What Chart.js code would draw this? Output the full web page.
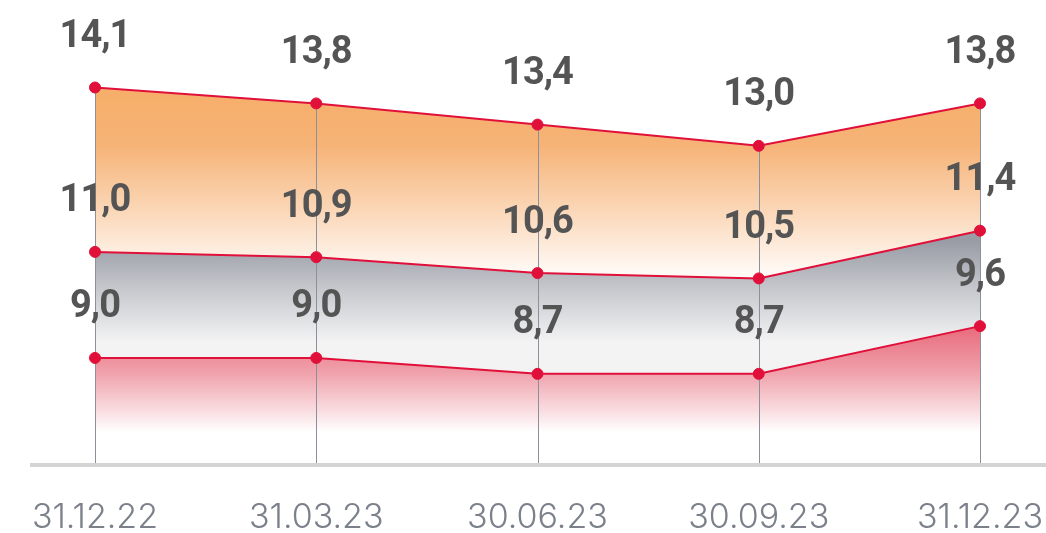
<!DOCTYPE html>
<html>
<head>
<meta charset="utf-8">
<script src="https://cdn.jsdelivr.net/npm/chart.js@4"></script>
<style>
html,body{margin:0;padding:0;background:#fff;}
#wrap{width:1046px;height:533px;position:relative;}
</style>
</head>
<body>
<div id="wrap"><canvas id="c" width="1046" height="533"></canvas></div>
<script>
const categories = ['31.12.22', '31.03.23', '30.06.23', '30.09.23', '31.12.23'];
const seriesTop = [14.1, 13.8, 13.4, 13.0, 13.8];
const seriesMid = [11.0, 10.9, 10.6, 10.5, 11.4];
const seriesLow = [9.0, 9.0, 8.7, 8.7, 9.6];

const LINE = '#e0103a';

function grad(ctx, stops) {
  const chart = ctx.chart;
  const area = chart.chartArea;
  if (!area) return 'rgba(0,0,0,0)';
  const y = chart.scales.y;
  const y0 = y.getPixelForValue(stops[0][0]);
  const y1 = y.getPixelForValue(stops[stops.length-1][0]);
  const g = chart.ctx.createLinearGradient(0, y0, 0, y1);
  stops.forEach(s => {
    const p = (y.getPixelForValue(s[0]) - y0) / (y1 - y0);
    g.addColorStop(Math.min(1, Math.max(0, p)), s[1]);
  });
  return g;
}

const decor = {
  id: 'decor',
  beforeDatasetsDraw(chart) {
    const c = chart.ctx, x = chart.scales.x, y = chart.scales.y;
    const bottom = chart.chartArea.bottom;
    c.save();
    c.strokeStyle = '#8c909a';
    c.lineWidth = 1;
    seriesTop.forEach((v, i) => {
      const px = Math.round(x.getPixelForValue(i)) + 0.5;
      c.beginPath();
      c.moveTo(px, y.getPixelForValue(v));
      c.lineTo(px, bottom);
      c.stroke();
    });
    c.fillStyle = '#d4d4d4';
    c.fillRect(30, bottom - 1, 1046 - 30, 4);
    c.restore();
  },
  afterDatasetsDraw(chart) {
    const c = chart.ctx, x = chart.scales.x, y = chart.scales.y;
    c.save();
    c.fillStyle = '#545454';
    c.font = 'bold 38px Roboto';
    try { c.letterSpacing = '-1px'; } catch (e) {}
    c.textAlign = 'center';
    c.textBaseline = 'middle';
    [seriesTop, seriesMid, seriesLow].forEach(arr => {
      arr.forEach((v, i) => {
        const px = x.getPixelForValue(i);
        const py = y.getPixelForValue(v) - 50;
        c.fillText(v.toFixed(1).replace('.', ','), px, py);
      });
    });
    c.restore();
  }
};

const ds = (data, fill, stops) => ({
  data, fill,
  borderColor: LINE, borderWidth: 2,
  pointBackgroundColor: LINE, pointBorderColor: LINE, pointRadius: 5.5, pointBorderWidth: 1,
  backgroundColor: ctx => grad(ctx, stops),
  tension: 0
});

new Chart(document.getElementById('c'), {
  type: 'line',
  data: {
    labels: categories,
    datasets: [
      ds(seriesTop, '+1', [[14.0, '#f6ae6a'], [13.0, '#f6b377'], [10.6, '#fffaf6']]),
      ds(seriesMid, '+1', [[11.2, '#999ca5'], [10.3, '#c6c8cd'], [9.3, '#f3f3f4']]),
      ds(seriesLow, 'start', [[9.6, '#e86a7b'], [8.7, '#f0a3ad'], [7.6, '#ffffff']])
    ]
  },
  options: {
    responsive: false,
    animation: false,
    layout: { autoPadding: false, padding: { left: 95, right: 66, top: 0, bottom: 0 } },
    plugins: {
      legend: { display: false }, tooltip: { enabled: false },
      filler: { drawTime: 'beforeDatasetsDraw' }
    },
    scales: {
      x: {
        offset: false,
        grid: { display: false, drawTicks: false },
        border: { display: false },
        ticks: { color: '#7b808b', font: { family: 'Inter', size: 34, weight: '300' }, padding: 33, maxRotation: 0, autoSkip: false },
        afterFit(scale) { scale.height = 69; scale.paddingLeft = 0; scale.paddingRight = 0; }
      },
      y: {
        display: false,
        min: 7, max: 15.75
      }
    }
  },
  plugins: [decor]
});
</script>
</body>
</html>
